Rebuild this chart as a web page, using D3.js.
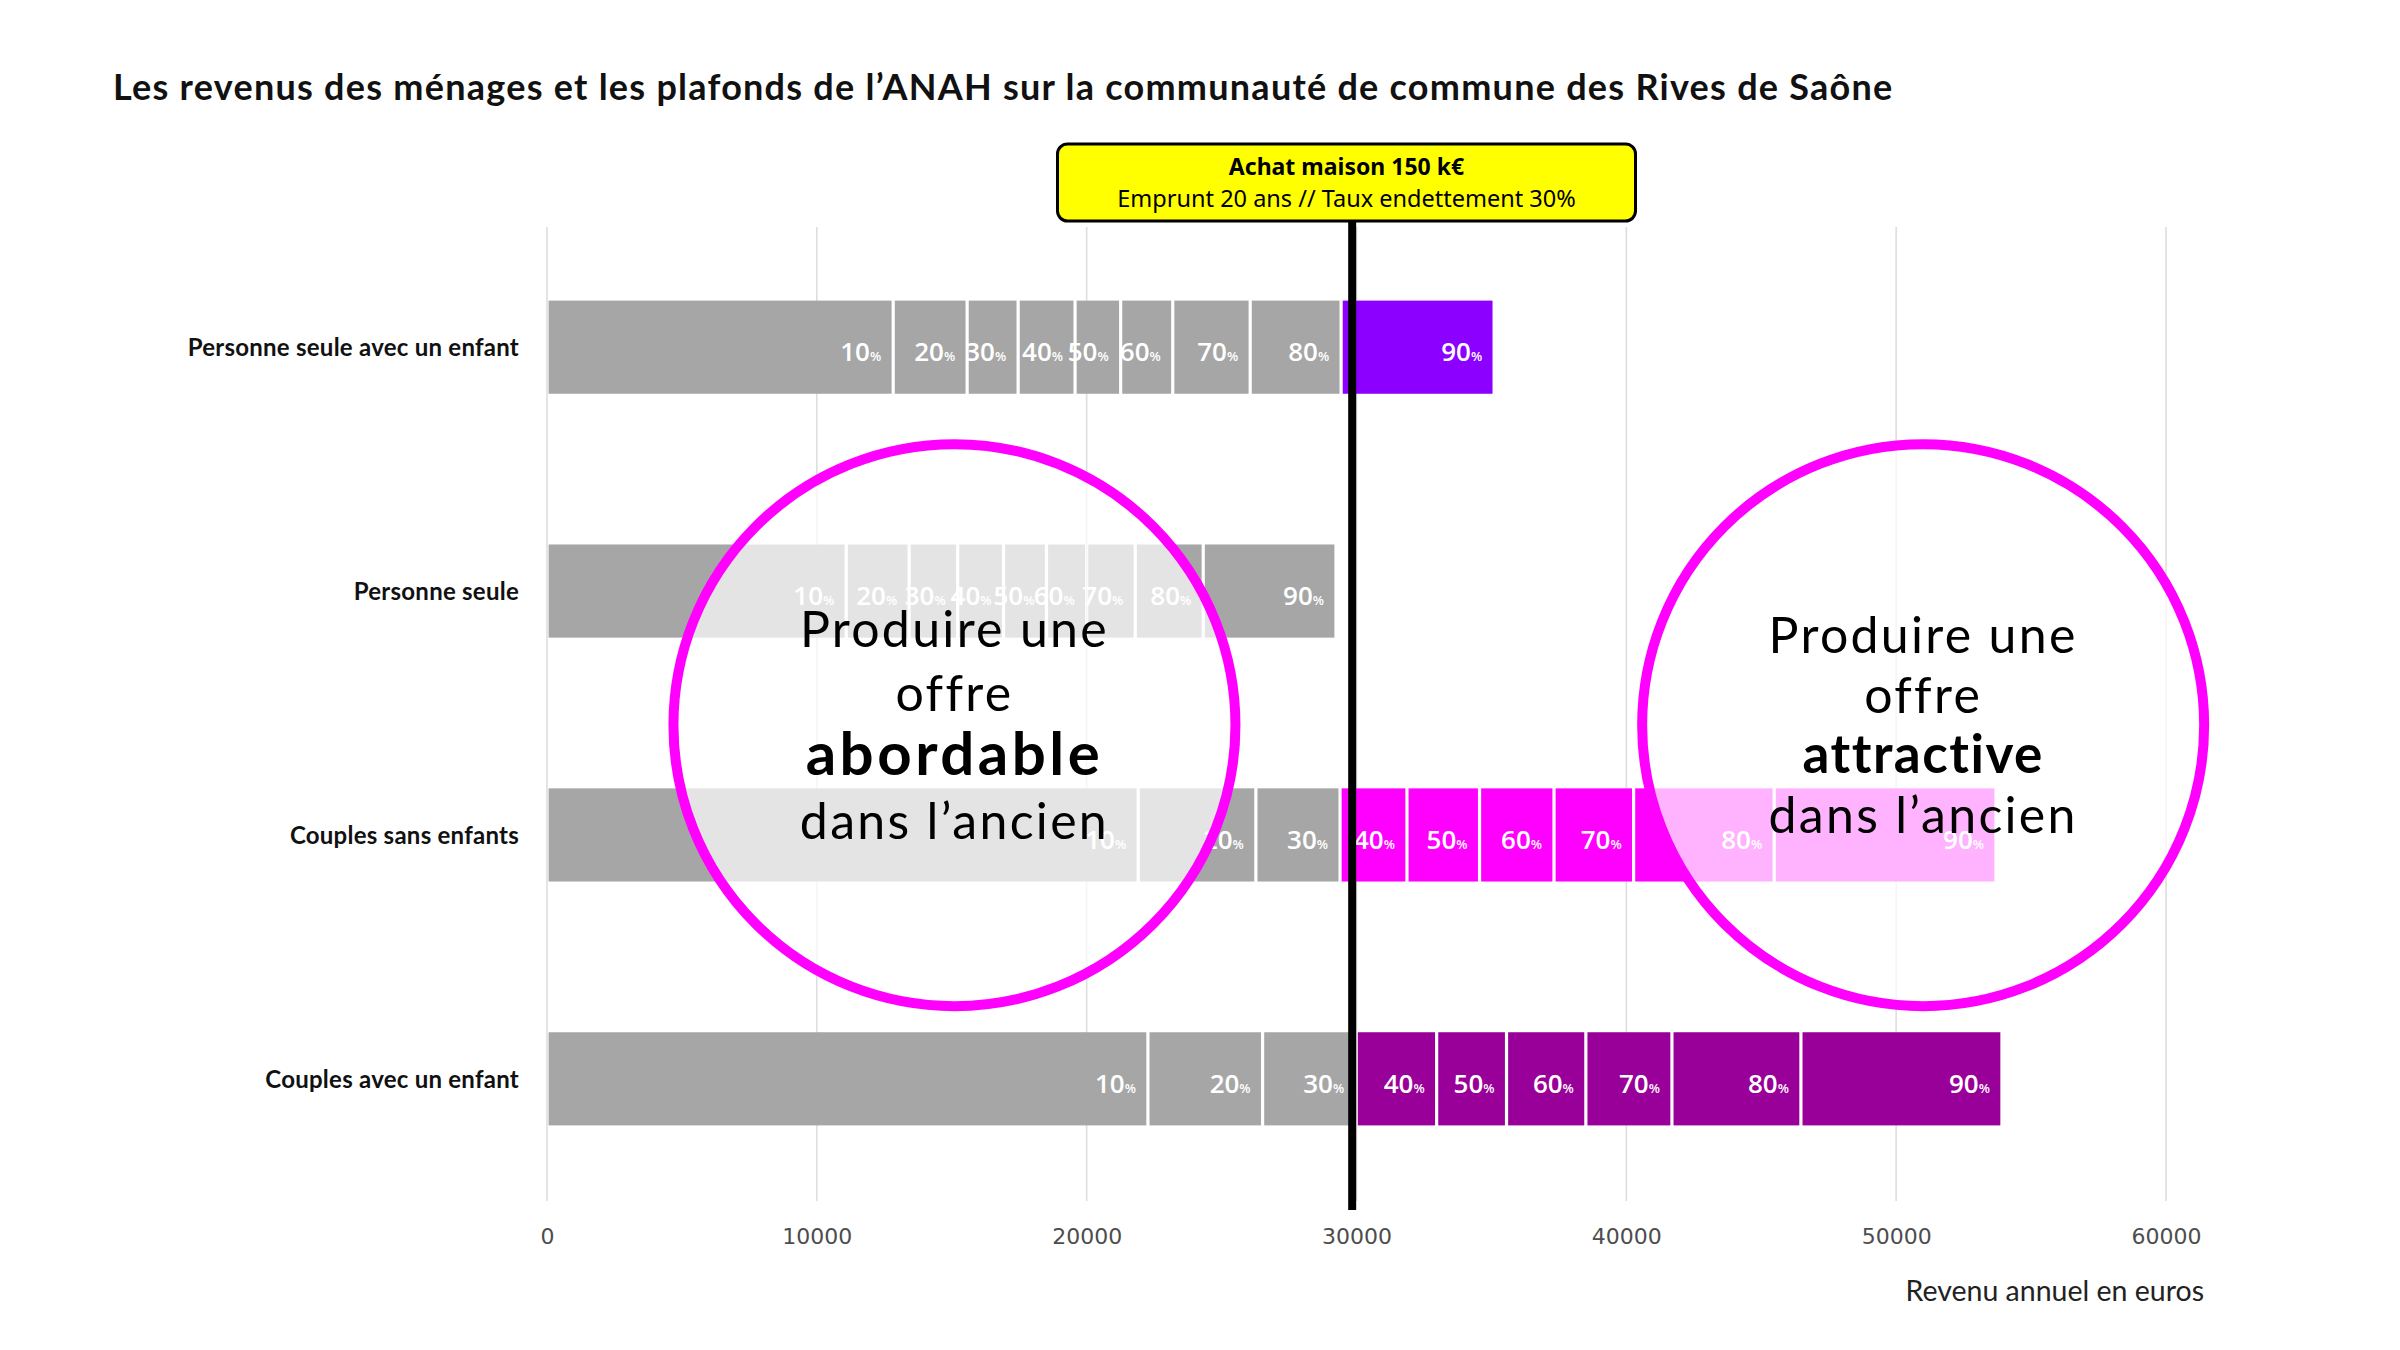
<!DOCTYPE html>
<html>
<head>
<meta charset="utf-8">
<script src="https://cdn.jsdelivr.net/npm/d3@7"></script>
<style>
  html, body { margin: 0; padding: 0; background: #fff; }
</style>
</head>
<body>
<div id="chart"></div>
<script>
// DATA
const categories = [
    'Personne seule avec un enfant',
    'Personne seule',
    'Couples sans enfants',
    'Couples avec un enfant',
];
const deciles = ['10', '20', '30', '40', '50', '60', '70', '80', '90'];
// upper bound (annual income, €) of each decile, per household type
const decilesSeuleEnfant = [12830, 15570, 17460, 19570, 21260, 23190, 26060, 29430, 35100];
const decilesSeule = [11090, 13420, 15220, 16920, 18510, 20000, 21800, 24320, 29240];
const decilesCouplesSans = [21910, 26270, 29390, 31870, 34560, 37320, 40270, 45480, 53700];
const decilesCouplesEnfant = [22270, 26520, 29990, 32970, 35560, 38500, 41690, 46470, 53920];
const highlightColors = ['#8b00ff', '#a6a6a6', '#ff00ff', '#990099'];
const xTickValues = [0, 10000, 20000, 30000, 40000, 50000, 60000];
const seuil = 30000; // achat maison 150 k€
const seuilLine = 29840; // where the black line is drawn
const circleCenters = [15100, 51000];
const circleTexts = [
    ['Produire une', 'offre', 'abordable', 'dans l\u2019ancien'],
    ['Produire une', 'offre', 'attractive', 'dans l\u2019ancien'],
];

const series = [decilesSeuleEnfant, decilesSeule, decilesCouplesSans, decilesCouplesEnfant];

const width = 2400;
const height = 1350;
const marginLeft = 547;
const marginRight = 234;
const plotTop = 225;
const plotBottom = 1201;
const gap = 1.6;
const font = 'Lato, "Noto Sans", sans-serif';

const svg = d3
    .select('#chart')
    .append('svg')
    .attr('width', width)
    .attr('height', height)
    .attr('viewBox', [0, 0, width, height]);

const x = d3.scaleLinear([0, 60000], [marginLeft, width - marginRight]);
const y = d3.scaleBand(categories, [plotTop, plotBottom]).paddingInner(0.618).paddingOuter(0.31);

// segments table
const segs = [];
series.forEach((vals, r) => {
    vals.forEach((v, i) => {
        segs.push({
            cat: categories[r],
            row: r,
            dec: deciles[i],
            x0: i === 0 ? 0 : vals[i - 1],
            x1: v,
            color: v > seuil ? highlightColors[r] : '#a6a6a6',
        });
    });
});

// TITLE
svg.append('text')
    .attr('x', 113)
    .attr('y', 100)
    .attr('font-family', font)
    .attr('font-weight', 700)
    .attr('font-size', 36)
    .attr('letter-spacing', 1.25)
    .attr('fill', '#111')
    .text('Les revenus des ménages et les plafonds de l\u2019ANAH sur la communauté de commune des Rives de Saône');

// GRIDLINES
svg.append('g')
    .attr('stroke', '#dedede')
    .attr('stroke-width', 1.6)
    .selectAll('line')
    .data(xTickValues)
    .join('line')
    .attr('x1', (d) => x(d))
    .attr('x2', (d) => x(d))
    .attr('y1', plotTop + 2)
    .attr('y2', plotBottom);

// X AXIS LABELS
svg.append('g')
    .attr('transform', `translate(0,${plotBottom})`)
    .call(d3.axisBottom(x).tickValues(xTickValues).tickFormat(d3.format('d')).tickSize(0))
    .call((g) => g.select('.domain').remove())
    .call((g) =>
        g
            .selectAll('.tick text')
            .attr('y', 43)
            .attr('dy', 0)
            .attr('font-family', '"DejaVu Sans", sans-serif')
            .attr('font-size', 22)
            .attr('fill', '#4d4d4d')
    );

svg.append('text')
    .attr('x', x(60000) + 38)
    .attr('y', 1301)
    .attr('text-anchor', 'end')
    .attr('font-family', font)
    .attr('font-size', 28.5)
    .attr('fill', '#222')
    .text('Revenu annuel en euros');

// Y AXIS LABELS
svg.append('g')
    .attr('transform', `translate(${marginLeft - 25},0)`)
    .call(d3.axisLeft(y).tickSize(0))
    .call((g) => g.select('.domain').remove())
    .call((g) =>
        g
            .selectAll('.tick text')
            .attr('dy', 9)
            .attr('font-family', font)
            .attr('font-weight', 700)
            .attr('font-size', 24)
            .attr('letter-spacing', 0.25)
            .attr('fill', '#111')
    );

// BARS
svg.append('g')
    .selectAll('rect')
    .data(segs)
    .join('rect')
    .attr('x', (d) => x(d.x0) + gap)
    .attr('width', (d) => x(d.x1) - x(d.x0) - 2 * gap)
    .attr('y', (d) => y(d.cat))
    .attr('height', y.bandwidth())
    .attr('fill', (d) => d.color);

// BAR LABELS
const labels = svg
    .append('g')
    .attr('font-family', '"Open Sans", sans-serif')
    .attr('font-weight', 600)
    .attr('fill', '#fff')
    .attr('text-anchor', 'end')
    .selectAll('text')
    .data(segs)
    .join('text')
    .attr('x', (d) => x(d.x1) - 12)
    .attr('y', (d) => y(d.cat) + y.bandwidth() / 2 + 14)
    .attr('font-size', 26);
labels.append('tspan').text((d) => d.dec);
labels.append('tspan').attr('font-size', 13).text('%');

// CIRCLES
const cy = y(categories[1]) + y.bandwidth() / 2 + 0.55 * y.step();
const radius = 281;
const lineStarts = [-78, -72];
const lineHeights = [64, 60];
const boldSizes = [60, 53];
const boldSpacing = [3.5, 1.5];

svg.append('g')
    .selectAll('circle')
    .data(circleCenters)
    .join('circle')
    .attr('cx', (d) => x(d))
    .attr('cy', cy)
    .attr('r', radius)
    .attr('fill', '#fff')
    .attr('fill-opacity', 0.7)
    .attr('stroke', '#ff00ff')
    .attr('stroke-width', 10);

circleCenters.forEach((c, k) => {
    svg.append('g')
        .attr('font-family', font)
        .attr('fill', '#000')
        .attr('text-anchor', 'middle')
        .selectAll('text')
        .data(circleTexts[k])
        .join('text')
        .attr('x', x(c))
        .attr('y', (d, i) => cy + lineStarts[k] + i * lineHeights[k])
        .attr('font-size', (d, i) => (i === 2 ? boldSizes[k] : 50))
        .attr('letter-spacing', (d, i) => (i === 2 ? boldSpacing[k] : 2.3))
        .attr('font-weight', (d, i) => (i === 2 ? 700 : 400))
        .text((d) => d);
});

// THRESHOLD LINE + BOX
const boxBottom = 221;
svg.append('line')
    .attr('x1', x(seuilLine))
    .attr('x2', x(seuilLine))
    .attr('y1', boxBottom)
    .attr('y2', plotBottom + 9)
    .attr('stroke', '#000')
    .attr('stroke-width', 8);

const boxW = 578;
const boxX = x(seuil) - 299;
svg.append('rect')
    .attr('x', boxX)
    .attr('y', 144)
    .attr('width', boxW)
    .attr('height', boxBottom - 144)
    .attr('rx', 10)
    .attr('fill', '#ffff00')
    .attr('stroke', '#000')
    .attr('stroke-width', 3);

const boxCx = boxX + boxW / 2;
svg.append('text')
    .attr('x', boxCx)
    .attr('y', 175)
    .attr('text-anchor', 'middle')
    .attr('font-family', '"Noto Sans", sans-serif')
    .attr('font-weight', 700)
    .attr('font-size', 23)
    .text('Achat maison 150 k€');
svg.append('text')
    .attr('x', boxCx)
    .attr('y', 207)
    .attr('text-anchor', 'middle')
    .attr('font-family', '"Noto Sans", sans-serif')
    .attr('font-size', 23.5)
    .text('Emprunt 20 ans // Taux endettement 30%');
</script>
</body>
</html>
